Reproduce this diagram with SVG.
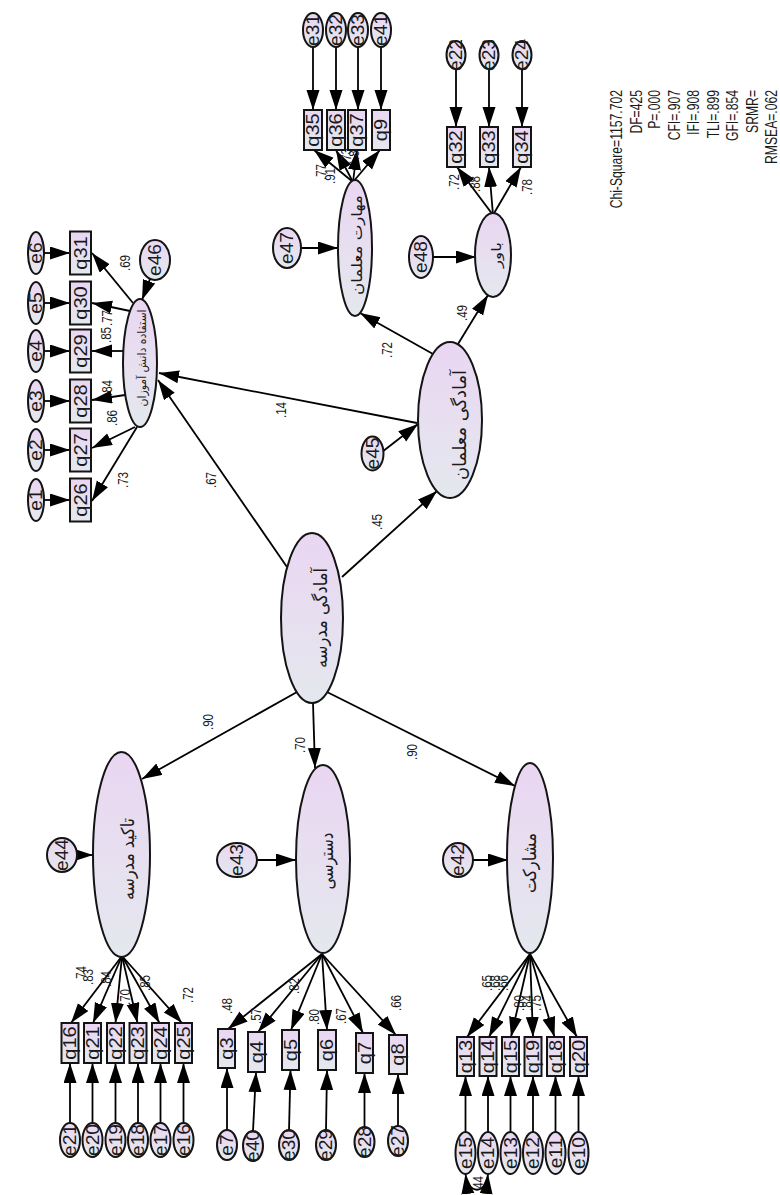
<svg xmlns="http://www.w3.org/2000/svg" width="780" height="1195" viewBox="0 0 780 1195">
<defs>
  <linearGradient id="fillG" x1="0" y1="0" x2="0" y2="1">
    <stop offset="0" stop-color="#ead6f2"/>
    <stop offset="1" stop-color="#e4e8ee"/>
  </linearGradient>
  <marker id="ah" markerUnits="userSpaceOnUse" markerWidth="21" markerHeight="14" refX="20" refY="6.5" orient="auto">
    <path d="M0,0 L20,6.5 L0,13 z" fill="#000"/>
  </marker>
  <marker id="ahs" markerUnits="userSpaceOnUse" markerWidth="21" markerHeight="14" refX="20" refY="6.5" orient="auto-start-reverse">
    <path d="M0,0 L20,6.5 L0,13 z" fill="#000"/>
  </marker>
  <style>
    .nd ellipse, .nd rect { fill: url(#fillG); stroke: #141414; stroke-width: 2; }
    .cn line, .cn path { stroke: #000; stroke-width: 1.8; fill: none; marker-end: url(#ah); }
    .cn path.cov { marker-start: url(#ahs); }
    text { fill: #1a1a1a; }
    .v { font-family: "Liberation Sans", Arial, sans-serif; font-size: 17.5px; text-anchor: middle; dominant-baseline: central; }
    .w { font-family: "Liberation Sans", Arial, sans-serif; font-size: 14.5px; text-anchor: middle; dominant-baseline: central; }
    .s { font-family: "Liberation Sans", Arial, sans-serif; font-size: 16px; text-anchor: end; }
    .fa { font-family: "DejaVu Sans", sans-serif; text-anchor: middle; dominant-baseline: central; }
  </style>
</defs>
<rect width="780" height="1195" fill="#fff"/>

<!-- connectors -->
<g id="connectors" class="cn">
  <!-- structural paths -->
  <line x1="287" y1="567" x2="158" y2="380"/>
  <line x1="342" y1="577" x2="437" y2="491"/>
  <line x1="417" y1="423" x2="159" y2="373"/>
  <line x1="433" y1="354" x2="360" y2="313"/>
  <line x1="458" y1="344" x2="488" y2="295"/>
  <line x1="297" y1="692" x2="142" y2="779"/>
  <line x1="313" y1="703" x2="315" y2="768"/>
  <line x1="327" y1="692" x2="515" y2="786"/>
  <!-- disturbances -->
  <line x1="150" y1="279" x2="142" y2="300"/>
  <line x1="301" y1="248" x2="338" y2="248"/>
  <line x1="433" y1="257" x2="476" y2="257"/>
  <line x1="382" y1="452" x2="418" y2="424"/>
  <line x1="76" y1="855" x2="93" y2="855"/>
  <line x1="257" y1="860" x2="296" y2="860"/>
  <line x1="473" y1="860" x2="508" y2="860"/>
  <!-- loadings: student use -->
  <line x1="133" y1="303" x2="92" y2="253"/>
  <line x1="130" y1="311" x2="92" y2="303"/>
  <line x1="124" y1="351" x2="92" y2="351"/>
  <line x1="125" y1="395" x2="92" y2="400"/>
  <line x1="135" y1="427" x2="92" y2="448"/>
  <line x1="137" y1="427" x2="92" y2="501"/>
  <!-- errors: student use -->
  <line x1="44" y1="253" x2="70" y2="253"/>
  <line x1="44" y1="303" x2="70" y2="303"/>
  <line x1="44" y1="351" x2="70" y2="351"/>
  <line x1="44" y1="401" x2="70" y2="401"/>
  <line x1="44" y1="450" x2="70" y2="450"/>
  <line x1="44" y1="500" x2="70" y2="500"/>
  <!-- teacher skills -->
  <line x1="353" y1="182" x2="314" y2="150"/>
  <line x1="353" y1="182" x2="336" y2="150"/>
  <line x1="353" y1="182" x2="357" y2="150"/>
  <line x1="353" y1="182" x2="380" y2="150"/>
  <line x1="313" y1="47" x2="313" y2="110"/>
  <line x1="336" y1="47" x2="336" y2="110"/>
  <line x1="358" y1="47" x2="358" y2="110"/>
  <line x1="381" y1="47" x2="381" y2="110"/>
  <!-- belief -->
  <line x1="493" y1="215" x2="457" y2="167"/>
  <line x1="493" y1="215" x2="489" y2="167"/>
  <line x1="493" y1="215" x2="521" y2="167"/>
  <line x1="456" y1="68" x2="456" y2="127"/>
  <line x1="489" y1="68" x2="489" y2="127"/>
  <line x1="522" y1="68" x2="522" y2="127"/>
  <!-- school emphasis -->
  <line x1="122" y1="956" x2="71" y2="1023"/>
  <line x1="122" y1="956" x2="93" y2="1023"/>
  <line x1="122" y1="956" x2="115.5" y2="1023"/>
  <line x1="122" y1="956" x2="137.5" y2="1023"/>
  <line x1="122" y1="956" x2="159.5" y2="1023"/>
  <line x1="122" y1="956" x2="182" y2="1023"/>
  <line x1="70" y1="1123" x2="70" y2="1063"/>
  <line x1="92.5" y1="1123" x2="92.5" y2="1063"/>
  <line x1="115.5" y1="1123" x2="115.5" y2="1063"/>
  <line x1="138" y1="1123" x2="138" y2="1063"/>
  <line x1="160.5" y1="1123" x2="160.5" y2="1063"/>
  <line x1="183.5" y1="1123" x2="183.5" y2="1063"/>
  <!-- access -->
  <line x1="322" y1="954" x2="228" y2="1029"/>
  <line x1="322" y1="954" x2="258" y2="1032"/>
  <line x1="322" y1="954" x2="291" y2="1030"/>
  <line x1="322" y1="954" x2="327" y2="1030"/>
  <line x1="322" y1="954" x2="363" y2="1033"/>
  <line x1="322" y1="954" x2="396" y2="1035"/>
  <line x1="227" y1="1130" x2="227" y2="1068"/>
  <line x1="253" y1="1131" x2="256" y2="1072"/>
  <line x1="289" y1="1130" x2="290.5" y2="1070"/>
  <line x1="326" y1="1130" x2="327" y2="1070"/>
  <line x1="364.5" y1="1127" x2="364.5" y2="1073"/>
  <line x1="398" y1="1126" x2="398" y2="1074"/>
  <!-- participation -->
  <line x1="530" y1="954" x2="467" y2="1037"/>
  <line x1="530" y1="954" x2="489" y2="1037"/>
  <line x1="530" y1="954" x2="511" y2="1037"/>
  <line x1="530" y1="954" x2="533" y2="1037"/>
  <line x1="530" y1="954" x2="554.5" y2="1037"/>
  <line x1="530" y1="954" x2="577" y2="1037"/>
  <line x1="465.5" y1="1132" x2="465.5" y2="1076"/>
  <line x1="488" y1="1132" x2="488" y2="1076"/>
  <line x1="510.5" y1="1132" x2="510.5" y2="1076"/>
  <line x1="533" y1="1132" x2="533" y2="1076"/>
  <line x1="555.5" y1="1132" x2="555.5" y2="1076"/>
  <line x1="578.5" y1="1132" x2="578.5" y2="1076"/>
  <path class="cov" d="M465.5,1174 C468,1195 486,1195 488,1174"/>
</g>

<!-- path coefficients and loadings -->
<g id="weights" class="w">
  <text transform="translate(211 480) rotate(-90) scale(0.8 1)">.67</text>
  <text transform="translate(281 410) rotate(-90) scale(0.8 1)">.14</text>
  <text transform="translate(377 522) rotate(-90) scale(0.8 1)">.45</text>
  <text transform="translate(387 350) rotate(-90) scale(0.8 1)">.72</text>
  <text transform="translate(462 313) rotate(-90) scale(0.8 1)">.49</text>
  <text transform="translate(208 722) rotate(-90) scale(0.8 1)">.90</text>
  <text transform="translate(300 745) rotate(-90) scale(0.8 1)">.70</text>
  <text transform="translate(412 752) rotate(-90) scale(0.8 1)">.90</text>
  <text transform="translate(125 263) rotate(-90) scale(0.8 1)">.69</text>
  <text transform="translate(107 318) rotate(-90) scale(0.8 1)">.77</text>
  <text transform="translate(106 335) rotate(-90) scale(0.8 1)">.85</text>
  <text transform="translate(107 388) rotate(-90) scale(0.8 1)">.84</text>
  <text transform="translate(112 418) rotate(-90) scale(0.8 1)">.86</text>
  <text transform="translate(123 480) rotate(-90) scale(0.8 1)">.73</text>
  <text transform="translate(321 172) rotate(-90) scale(0.8 1)">.77</text>
  <text transform="translate(330 176) rotate(-90) scale(0.8 1)">.91</text>
  <text transform="translate(346 156) rotate(-90) scale(0.8 1)">.73</text>
  <text transform="translate(354 152) rotate(-90) scale(0.8 1)">.83</text>
  <text transform="translate(454 182) rotate(-90) scale(0.8 1)">.72</text>
  <text transform="translate(475 184) rotate(-90) scale(0.8 1)">.88</text>
  <text transform="translate(527 187) rotate(-90) scale(0.8 1)">.78</text>
  <text transform="translate(81 974) rotate(-90) scale(0.8 1)">.74</text>
  <text transform="translate(88.5 977) rotate(-90) scale(0.8 1)">.83</text>
  <text transform="translate(106.5 979) rotate(-90) scale(0.8 1)">.84</text>
  <text transform="translate(125 997) rotate(-90) scale(0.8 1)">.70</text>
  <text transform="translate(145 983) rotate(-90) scale(0.8 1)">.85</text>
  <text transform="translate(188.5 995) rotate(-90) scale(0.8 1)">.72</text>
  <text transform="translate(227.5 1006) rotate(-90) scale(0.8 1)">.48</text>
  <text transform="translate(256 1016) rotate(-90) scale(0.8 1)">.57</text>
  <text transform="translate(294 986) rotate(-90) scale(0.8 1)">.82</text>
  <text transform="translate(314 1017) rotate(-90) scale(0.8 1)">.80</text>
  <text transform="translate(341 1016) rotate(-90) scale(0.8 1)">.67</text>
  <text transform="translate(396 1003) rotate(-90) scale(0.8 1)">.66</text>
  <text transform="translate(487 983) rotate(-90) scale(0.8 1)">.65</text>
  <text transform="translate(495 983) rotate(-90) scale(0.8 1)">.68</text>
  <text transform="translate(503 983) rotate(-90) scale(0.8 1)">.66</text>
  <text transform="translate(519 1003) rotate(-90) scale(0.8 1)">.80</text>
  <text transform="translate(527 1003) rotate(-90) scale(0.8 1)">.84</text>
  <text transform="translate(536 1003) rotate(-90) scale(0.8 1)">.75</text>
  <text transform="translate(478 1184) rotate(-90) scale(0.8 1)">.44</text>
</g>

<!-- latent factors -->
<g id="school" class="nd"><ellipse cx="312" cy="618" rx="31" ry="85"/>
  <text class="fa" font-size="18" textLength="100" lengthAdjust="spacingAndGlyphs" transform="translate(320 618) rotate(-90)">آمادگی مدرسه</text></g>
<g id="studentUse" class="nd"><ellipse cx="140" cy="363" rx="17" ry="64"/>
  <text class="fa" font-size="11.5" textLength="97" lengthAdjust="spacingAndGlyphs" transform="translate(142 358) rotate(-90)">استفاده دانش آموزان</text></g>
<g id="teachers" class="nd"><ellipse cx="450" cy="420" rx="32" ry="78"/>
  <text class="fa" font-size="18" textLength="110" lengthAdjust="spacingAndGlyphs" transform="translate(459 425) rotate(-90)">آمادگی معلمان</text></g>
<g id="skills" class="nd"><ellipse cx="355" cy="248" rx="17" ry="68"/>
  <text class="fa" font-size="15" textLength="100" lengthAdjust="spacingAndGlyphs" transform="translate(357 245) rotate(-90)">مهارت معلمان</text></g>
<g id="belief" class="nd"><ellipse cx="493" cy="255" rx="18" ry="42"/>
  <text class="fa" font-size="13" textLength="26" lengthAdjust="spacingAndGlyphs" transform="translate(496 255) rotate(-90)">باور</text></g>
<g id="emphasis" class="nd"><ellipse cx="121.5" cy="854.5" rx="28.5" ry="102.5"/>
  <text class="fa" font-size="18" textLength="82" lengthAdjust="spacingAndGlyphs" transform="translate(127 859) rotate(-90)">تاکید مدرسه</text></g>
<g id="access" class="nd"><ellipse cx="323" cy="859" rx="27" ry="94"/>
  <text class="fa" font-size="18" textLength="57" lengthAdjust="spacingAndGlyphs" transform="translate(326 861) rotate(-90)">دسترسی</text></g>
<g id="participation" class="nd"><ellipse cx="530" cy="858" rx="23" ry="95"/>
  <text class="fa" font-size="18" textLength="60" lengthAdjust="spacingAndGlyphs" transform="translate(529 863) rotate(-90)">مشارکت</text></g>

<!-- disturbance terms -->
<g id="e46" class="nd"><ellipse cx="155" cy="260" rx="15" ry="20"/><text class="v" transform="translate(155 260) rotate(-90) scale(1.1 1)">e46</text></g>
<g id="e47" class="nd"><ellipse cx="287" cy="248" rx="14" ry="20"/><text class="v" transform="translate(287 248) rotate(-90) scale(1.1 1)">e47</text></g>
<g id="e48" class="nd"><ellipse cx="421" cy="257" rx="12" ry="21"/><text class="v" transform="translate(421 257) rotate(-90) scale(1.1 1)">e48</text></g>
<g id="e45" class="nd"><ellipse cx="372.5" cy="453.5" rx="11" ry="17"/><text class="v" transform="translate(372.5 453.5) rotate(-90) scale(1.1 1)">e45</text></g>
<g id="e44" class="nd"><ellipse cx="62" cy="855" rx="15" ry="17"/><text class="v" transform="translate(62 855) rotate(-90) scale(1.1 1)">e44</text></g>
<g id="e43" class="nd"><ellipse cx="237" cy="860" rx="20" ry="17"/><text class="v" transform="translate(237 860) rotate(-90) scale(1.1 1)">e43</text></g>
<g id="e42" class="nd"><ellipse cx="458" cy="860" rx="15" ry="17"/><text class="v" transform="translate(458 860) rotate(-90) scale(1.1 1)">e42</text></g>

<!-- indicators: student use -->
<g id="q31" class="nd"><rect x="70" y="231.5" width="21" height="43"/><text class="v" transform="translate(80.5 253) rotate(-90) scale(1.15 1)">q31</text></g>
<g id="q30" class="nd"><rect x="70" y="281.5" width="21" height="43"/><text class="v" transform="translate(80.5 303) rotate(-90) scale(1.15 1)">q30</text></g>
<g id="q29" class="nd"><rect x="70" y="329.5" width="21" height="43"/><text class="v" transform="translate(80.5 351) rotate(-90) scale(1.15 1)">q29</text></g>
<g id="q28" class="nd"><rect x="70" y="379.5" width="21" height="43"/><text class="v" transform="translate(80.5 401) rotate(-90) scale(1.15 1)">q28</text></g>
<g id="q27" class="nd"><rect x="70" y="428.5" width="21" height="43"/><text class="v" transform="translate(80.5 450) rotate(-90) scale(1.15 1)">q27</text></g>
<g id="q26" class="nd"><rect x="70" y="478.5" width="21" height="43"/><text class="v" transform="translate(80.5 500) rotate(-90) scale(1.15 1)">q26</text></g>
<g id="e6" class="nd"><ellipse cx="36" cy="253" rx="8" ry="21"/><text class="v" transform="translate(36 253) rotate(-90) scale(1.1 1)">e6</text></g>
<g id="e5" class="nd"><ellipse cx="36" cy="303" rx="8" ry="21"/><text class="v" transform="translate(36 303) rotate(-90) scale(1.1 1)">e5</text></g>
<g id="e4" class="nd"><ellipse cx="36" cy="351" rx="8" ry="21"/><text class="v" transform="translate(36 351) rotate(-90) scale(1.1 1)">e4</text></g>
<g id="e3" class="nd"><ellipse cx="36" cy="401" rx="8" ry="21"/><text class="v" transform="translate(36 401) rotate(-90) scale(1.1 1)">e3</text></g>
<g id="e2" class="nd"><ellipse cx="36" cy="450" rx="8" ry="21"/><text class="v" transform="translate(36 450) rotate(-90) scale(1.1 1)">e2</text></g>
<g id="e1" class="nd"><ellipse cx="36" cy="500" rx="8" ry="21"/><text class="v" transform="translate(36 500) rotate(-90) scale(1.1 1)">e1</text></g>

<!-- indicators: teacher skills -->
<g id="q35" class="nd"><rect x="304" y="110" width="18" height="40"/><text class="v" transform="translate(313 130) rotate(-90) scale(1.15 1)">q35</text></g>
<g id="q36" class="nd"><rect x="327" y="110" width="18" height="40"/><text class="v" transform="translate(336 130) rotate(-90) scale(1.15 1)">q36</text></g>
<g id="q37" class="nd"><rect x="348" y="110" width="18" height="40"/><text class="v" transform="translate(357 130) rotate(-90) scale(1.15 1)">q37</text></g>
<g id="q9" class="nd"><rect x="372" y="110" width="18" height="40"/><text class="v" transform="translate(381 130) rotate(-90) scale(1.15 1)">q9</text></g>
<g id="e31" class="nd"><ellipse cx="313" cy="30" rx="10" ry="17"/><text class="v" transform="translate(313 30) rotate(-90) scale(1.1 1)">e31</text></g>
<g id="e32" class="nd"><ellipse cx="336" cy="30" rx="10" ry="17"/><text class="v" transform="translate(336 30) rotate(-90) scale(1.1 1)">e32</text></g>
<g id="e33" class="nd"><ellipse cx="358" cy="30" rx="10" ry="17"/><text class="v" transform="translate(358 30) rotate(-90) scale(1.1 1)">e33</text></g>
<g id="e41" class="nd"><ellipse cx="381" cy="30" rx="10" ry="17"/><text class="v" transform="translate(381 30) rotate(-90) scale(1.1 1)">e41</text></g>

<!-- indicators: belief -->
<g id="q32" class="nd"><rect x="447" y="127" width="18" height="40"/><text class="v" transform="translate(456 147) rotate(-90) scale(1.15 1)">q32</text></g>
<g id="q33" class="nd"><rect x="480" y="127" width="18" height="40"/><text class="v" transform="translate(489 147) rotate(-90) scale(1.15 1)">q33</text></g>
<g id="q34" class="nd"><rect x="513" y="127" width="18" height="40"/><text class="v" transform="translate(522 147) rotate(-90) scale(1.15 1)">q34</text></g>
<g id="e22" class="nd"><ellipse cx="456" cy="55" rx="9.5" ry="14"/><text class="v" transform="translate(456 55) rotate(-90) scale(1.1 1)">e22</text></g>
<g id="e23" class="nd"><ellipse cx="489" cy="55" rx="9.5" ry="14"/><text class="v" transform="translate(489 55) rotate(-90) scale(1.1 1)">e23</text></g>
<g id="e24" class="nd"><ellipse cx="522" cy="55" rx="9.5" ry="14"/><text class="v" transform="translate(522 55) rotate(-90) scale(1.1 1)">e24</text></g>

<!-- indicators: school emphasis -->
<g id="q16" class="nd"><rect x="61.5" y="1023" width="17" height="40"/><text class="v" transform="translate(70 1043) rotate(-90) scale(1.15 1)">q16</text></g>
<g id="q21" class="nd"><rect x="84" y="1023" width="17" height="40"/><text class="v" transform="translate(92.5 1043) rotate(-90) scale(1.15 1)">q21</text></g>
<g id="q22" class="nd"><rect x="107" y="1023" width="17" height="40"/><text class="v" transform="translate(115.5 1043) rotate(-90) scale(1.15 1)">q22</text></g>
<g id="q23" class="nd"><rect x="129.5" y="1023" width="17" height="40"/><text class="v" transform="translate(138 1043) rotate(-90) scale(1.15 1)">q23</text></g>
<g id="q24" class="nd"><rect x="152" y="1023" width="17" height="40"/><text class="v" transform="translate(160.5 1043) rotate(-90) scale(1.15 1)">q24</text></g>
<g id="q25" class="nd"><rect x="175" y="1023" width="17" height="40"/><text class="v" transform="translate(183.5 1043) rotate(-90) scale(1.15 1)">q25</text></g>
<g id="e21" class="nd"><ellipse cx="70" cy="1140" rx="10" ry="17"/><text class="v" transform="translate(70 1140) rotate(-90) scale(1.1 1)">e21</text></g>
<g id="e20" class="nd"><ellipse cx="92.5" cy="1140" rx="10" ry="17"/><text class="v" transform="translate(92.5 1140) rotate(-90) scale(1.1 1)">e20</text></g>
<g id="e19" class="nd"><ellipse cx="115.5" cy="1140" rx="10" ry="17"/><text class="v" transform="translate(115.5 1140) rotate(-90) scale(1.1 1)">e19</text></g>
<g id="e18" class="nd"><ellipse cx="138" cy="1140" rx="10" ry="17"/><text class="v" transform="translate(138 1140) rotate(-90) scale(1.1 1)">e18</text></g>
<g id="e17" class="nd"><ellipse cx="160.5" cy="1140" rx="10" ry="17"/><text class="v" transform="translate(160.5 1140) rotate(-90) scale(1.1 1)">e17</text></g>
<g id="e16" class="nd"><ellipse cx="183.5" cy="1140" rx="10" ry="17"/><text class="v" transform="translate(183.5 1140) rotate(-90) scale(1.1 1)">e16</text></g>

<!-- indicators: access -->
<g id="q3" class="nd"><rect x="218" y="1029" width="17" height="39"/><text class="v" transform="translate(226.5 1048.5) rotate(-90) scale(1.15 1)">q3</text></g>
<g id="q4" class="nd"><rect x="248" y="1032" width="17" height="40"/><text class="v" transform="translate(256.5 1052) rotate(-90) scale(1.15 1)">q4</text></g>
<g id="q5" class="nd"><rect x="282" y="1030" width="17" height="40"/><text class="v" transform="translate(290.5 1050) rotate(-90) scale(1.15 1)">q5</text></g>
<g id="q6" class="nd"><rect x="318" y="1030" width="18" height="40"/><text class="v" transform="translate(327 1050) rotate(-90) scale(1.15 1)">q6</text></g>
<g id="q7" class="nd"><rect x="356" y="1033" width="17" height="40"/><text class="v" transform="translate(364.5 1053) rotate(-90) scale(1.15 1)">q7</text></g>
<g id="q8" class="nd"><rect x="389" y="1035" width="18" height="39"/><text class="v" transform="translate(398 1054.5) rotate(-90) scale(1.15 1)">q8</text></g>
<g id="e7" class="nd"><ellipse cx="227" cy="1145" rx="10" ry="15"/><text class="v" transform="translate(227 1145) rotate(-90) scale(1.1 1)">e7</text></g>
<g id="e40" class="nd"><ellipse cx="253" cy="1146" rx="10" ry="15"/><text class="v" transform="translate(253 1146) rotate(-90) scale(1.1 1)">e40</text></g>
<g id="e30" class="nd"><ellipse cx="289" cy="1145" rx="10" ry="15"/><text class="v" transform="translate(289 1145) rotate(-90) scale(1.1 1)">e30</text></g>
<g id="e29" class="nd"><ellipse cx="326" cy="1145" rx="10" ry="15"/><text class="v" transform="translate(326 1145) rotate(-90) scale(1.1 1)">e29</text></g>
<g id="e28" class="nd"><ellipse cx="364.5" cy="1142" rx="10" ry="15"/><text class="v" transform="translate(364.5 1142) rotate(-90) scale(1.1 1)">e28</text></g>
<g id="e27" class="nd"><ellipse cx="398" cy="1141" rx="10" ry="15"/><text class="v" transform="translate(398 1141) rotate(-90) scale(1.1 1)">e27</text></g>

<!-- indicators: participation -->
<g id="q13" class="nd"><rect x="457" y="1037" width="17" height="39"/><text class="v" transform="translate(465.5 1056.5) rotate(-90) scale(1.15 1)">q13</text></g>
<g id="q14" class="nd"><rect x="479.5" y="1037" width="17" height="39"/><text class="v" transform="translate(488 1056.5) rotate(-90) scale(1.15 1)">q14</text></g>
<g id="q15" class="nd"><rect x="502" y="1037" width="17" height="39"/><text class="v" transform="translate(510.5 1056.5) rotate(-90) scale(1.15 1)">q15</text></g>
<g id="q19" class="nd"><rect x="524.5" y="1037" width="17" height="39"/><text class="v" transform="translate(533 1056.5) rotate(-90) scale(1.15 1)">q19</text></g>
<g id="q18" class="nd"><rect x="547" y="1037" width="17" height="39"/><text class="v" transform="translate(555.5 1056.5) rotate(-90) scale(1.15 1)">q18</text></g>
<g id="q20" class="nd"><rect x="570" y="1037" width="17" height="39"/><text class="v" transform="translate(578.5 1056.5) rotate(-90) scale(1.15 1)">q20</text></g>
<g id="e15" class="nd"><ellipse cx="465.5" cy="1153" rx="10" ry="21"/><text class="v" transform="translate(465.5 1153) rotate(-90) scale(1.1 1)">e15</text></g>
<g id="e14" class="nd"><ellipse cx="488" cy="1153" rx="10" ry="21"/><text class="v" transform="translate(488 1153) rotate(-90) scale(1.1 1)">e14</text></g>
<g id="e13" class="nd"><ellipse cx="510.5" cy="1153" rx="10" ry="21"/><text class="v" transform="translate(510.5 1153) rotate(-90) scale(1.1 1)">e13</text></g>
<g id="e12" class="nd"><ellipse cx="533" cy="1153" rx="10" ry="21"/><text class="v" transform="translate(533 1153) rotate(-90) scale(1.1 1)">e12</text></g>
<g id="e11" class="nd"><ellipse cx="555.5" cy="1153" rx="10" ry="21"/><text class="v" transform="translate(555.5 1153) rotate(-90) scale(1.1 1)">e11</text></g>
<g id="e10" class="nd"><ellipse cx="578.5" cy="1153" rx="10" ry="21"/><text class="v" transform="translate(578.5 1153) rotate(-90) scale(1.1 1)">e10</text></g>

<!-- fit statistics -->
<g id="fit" class="s">
  <text transform="translate(622 90) rotate(-90) scale(0.76 1)">Chi-Square=1157.702</text>
  <text transform="translate(641.5 90) rotate(-90) scale(0.76 1)">DF=425</text>
  <text transform="translate(660 90) rotate(-90) scale(0.76 1)">P=.000</text>
  <text transform="translate(679.5 90) rotate(-90) scale(0.76 1)">CFI=.907</text>
  <text transform="translate(699 90) rotate(-90) scale(0.76 1)">IFI=.908</text>
  <text transform="translate(718.5 90) rotate(-90) scale(0.76 1)">TLI=.899</text>
  <text transform="translate(738 90) rotate(-90) scale(0.76 1)">GFI=.854</text>
  <text transform="translate(757.5 90) rotate(-90) scale(0.76 1)">SRMR=</text>
  <text transform="translate(777 90) rotate(-90) scale(0.76 1)">RMSEA=.062</text>
</g>
</svg>
